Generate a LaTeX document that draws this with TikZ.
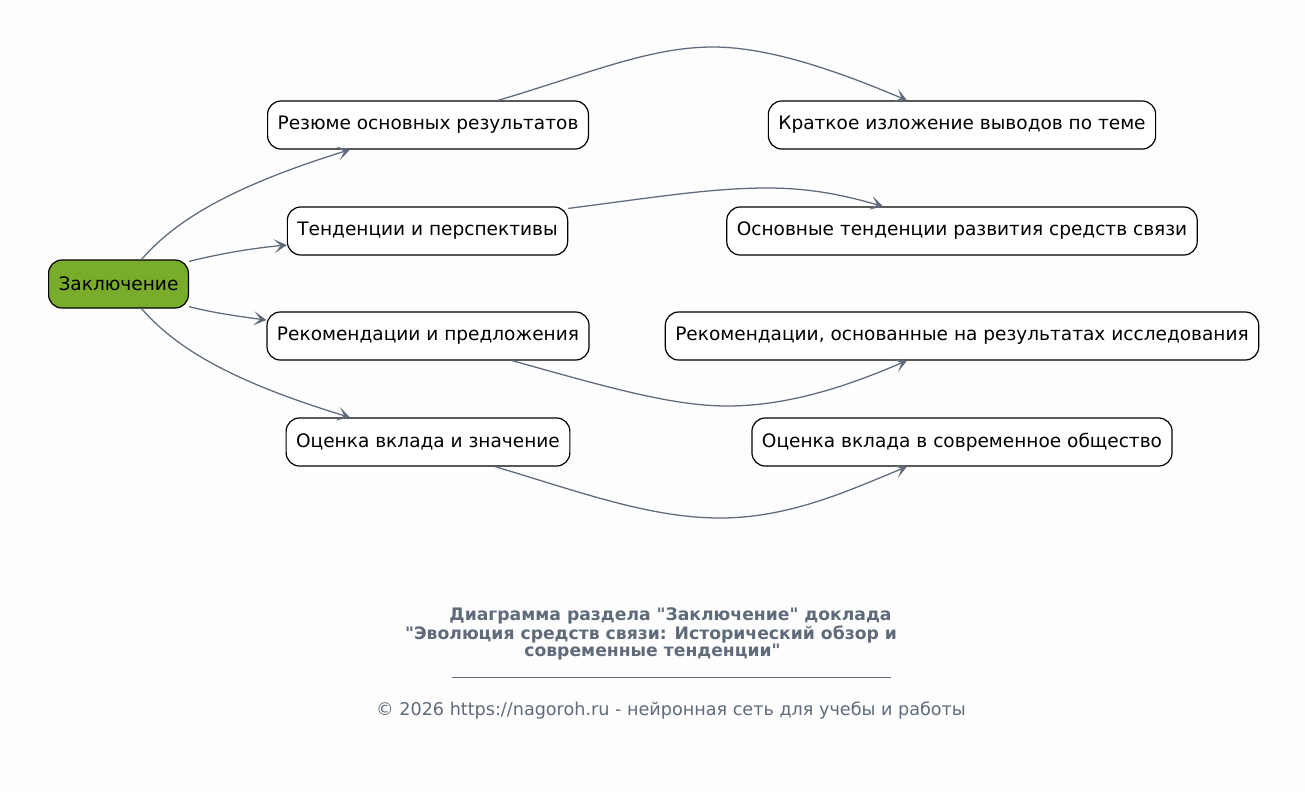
\documentclass[tikz,border=0pt]{standalone}
\usepackage{fontspec}
\setmainfont{DejaVu Sans}[Ligatures=TeXOff]
\usetikzlibrary{arrows.meta,calc,positioning}

\definecolor{edgecol}{HTML}{5F6B7A}
\definecolor{rootcol}{HTML}{7AAC2B}
\definecolor{bgcol}{HTML}{FDFDFD}

\begin{document}
\begin{tikzpicture}[x=0.75pt, y=-0.75pt,
    >={Stealth[length=9.5pt, width=10.5pt, inset=5pt]},
    box/.style={draw, line width=0.9pt, rounded corners=10pt, fill=white,
      minimum height=36pt, inner xsep=7.5pt, inner ysep=0pt,
      font=\fontsize{13.9}{16}\selectfont},
    link/.style={->, draw=edgecol, line width=0.95pt},
    caption/.style={text=edgecol, inner sep=0pt, font=\fontsize{12.9}{14}\selectfont\bfseries}]

  % background and page size
  \fill[bgcol] (0,0) rectangle (1305,793);

  % === Root ===
  \node[box, fill=rootcol] (root) at (118.5,284) {Заключение};

  % === Middle column ===
  \node[box] (res) at (428,125) {Резюме основных результатов};
  \node[box] (ten) at (427.5,231) {Тенденции и перспективы};
  \node[box] (rec) at (428,336) {Рекомендации и предложения};
  \node[box] (oce) at (428,442) {Оценка вклада и значение};

  % === Right column ===
  \node[box] (kra) at (962,125) {Краткое изложение выводов по теме};
  \node[box] (osn) at (962,231) {Основные тенденции развития средств связи};
  \node[box] (rek) at (962,336) {Рекомендации, основанные на результатах исследования};
  \node[box] (ocs) at (962,442) {Оценка вклада в современное общество};

  % Root -> middle
  \draw[link] ($(root.north)+(23,0)$) .. controls (172,225) and (220,190) .. ($(res.south)+(-78,0)$);
  \draw[link] ($(root.north east)+(0,2)$) .. controls (215,255) and (245,249) .. ($(ten.west)+(0,14)$);
  \draw[link] ($(root.south east)+(0,-2)$) .. controls (210,312) and (235,316) .. ($(rec.west)+(0,-16)$);
  \draw[link] ($(root.south)+(23,0)$) .. controls (172,343) and (220,378) .. ($(oce.north)+(-78,0)$);

  % Middle -> right
  \draw[link] ($(res.north)+(70,0)$) .. controls (590,73) and (650,47) .. (713,47)
    .. controls (770,47) and (840,72) .. ($(kra.north)+(-55,0)$);
  \draw[link] ($(ten.north east)+(0,2)$) .. controls (650,198) and (710,188) .. (767,188)
    .. controls (815,188) and (850,197) .. ($(osn.north)+(-79,0)$);
  \draw[link] ($(rec.south)+(84,0)$) .. controls (600,385) and (670,406) .. (727,406)
    .. controls (790,406) and (850,385) .. ($(rek.south)+(-55,0)$);
  \draw[link] ($(oce.south)+(67,0)$) .. controls (580,492) and (650,518) .. (720,518)
    .. controls (790,518) and (850,490) .. ($(ocs.south)+(-55,0)$);

  % === Caption ===
  \node[caption] (title1) at (670.5,616) {Диаграмма раздела "Заключение" доклада};
  \node[caption] (title2) at (651,634) {"Эволюция средств связи: Исторический обзор и};
  \node[caption] (title3) at (652.5,652) {современные тенденции"};
  \draw[edgecol, line width=0.6pt] (452,677) -- (891,677);
  \node[text=edgecol, inner sep=0pt, font=\fontsize{13.2}{14}\selectfont] (foot) at (671,710)
    {© 2026 https://nagoroh.ru - нейронная сеть для учебы и работы};

\end{tikzpicture}
\end{document}
